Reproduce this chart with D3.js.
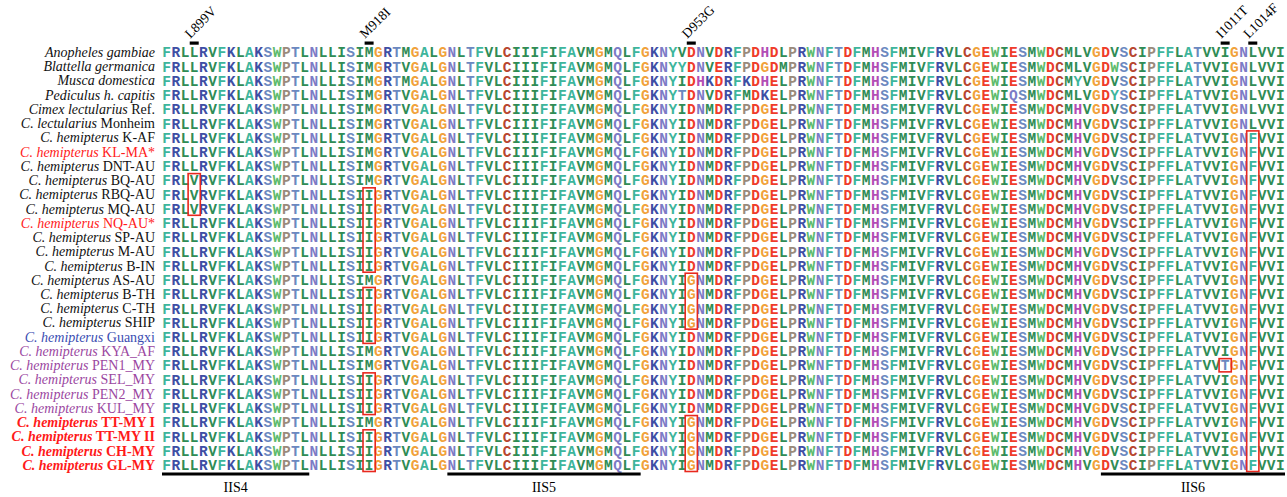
<!doctype html>
<meta charset="utf-8">
<body style="margin:0;background:#fff">

<div id="chart"></div>

<script src="https://d3js.org/d3.v7.min.js"></script>
<script>

// sample labels: italic part, plain part, label colour, bold
const species = [
  "Anopheles gambiae", "Blattella germanica", "Musca domestica", "Pediculus h. capitis",
  "Cimex lectularius", "C. lectularius",
  "C. hemipterus", "C. hemipterus", "C. hemipterus", "C. hemipterus", "C. hemipterus",
  "C. hemipterus", "C. hemipterus", "C. hemipterus", "C. hemipterus", "C. hemipterus",
  "C. hemipterus", "C. hemipterus", "C. hemipterus", "C. hemipterus", "C. hemipterus",
  "C. hemipterus", "C. hemipterus", "C. hemipterus", "C. hemipterus", "C. hemipterus",
  "C. hemipterus", "C. hemipterus", "C. hemipterus", "C. hemipterus"
]
const strains = [
  "", "", "", "", "Ref.", "Monheim",
  "K-AF", "KL-MA*", "DNT-AU", "BQ-AU", "RBQ-AU", "MQ-AU", "NQ-AU*", "SP-AU", "M-AU", "B-IN",
  "AS-AU", "B-TH", "C-TH", "SHIP", "Guangxi", "KYA_AF", "PEN1_MY", "SEL_MY", "PEN2_MY", "KUL_MY",
  "TT-MY I", "TT-MY II", "CH-MY", "GL-MY"
]
const labelGroup = [
  "k", "k", "k", "k", "k", "k",
  "k", "r", "k", "k", "k", "k", "r", "k", "k", "k",
  "k", "k", "k", "k", "b", "p", "p", "p", "p", "p",
  "rb", "rb", "rb", "rb"
]

// aligned sequences (residues 896-1017)
const sequences = [
  "FRLLRVFKLAKSWPTLNLLISIMGRTMGALGNLTFVLCIIIFIFAVMGMQLFGKNYVDNVDRFPDHDLPRWNFTDFMHSFMIVFRVLCGEWIESMWDCMLVGDVSCIPFFLATVVIGNLVVI",
  "FRLLRVFKLAKSWPTLNLLISIMGRTVGALGNLTFVLCIIIFIFAVMGMQLFGKNYYDNVERFPDGDMPRWNFTDFMHSFMIVFRVLCGEWIESMWDCMLVGDWSCIPFFLATVVIGNLVVI",
  "FRLLRVFKLAKSWPTLNLLISIMGRTMGALGNLTFVLCIIIFIFAVMGMQLFGKNYIDHKDRFKDHELPRWNFTDFMHSFMIVFRVLCGEWIESMWDCMYVGDVSCIPFFLATVVIGNLVVI",
  "FRLLRVFKLAKSWPTLNLLISIMGRTVGALGNLTFVLCIIIFIFAVMGMQLFGKNYTDNVDRFMDKELPRWNFTDFMHSFMIVFRVLCGEWIQSMWDCMLVGDYSCIPFFLATVVIGNLVVI",
  "FRLLRVFKLAKSWPTLNLLISIMGRTVGALGNLTFVLCIIIFIFAVMGMQLFGKNYIDNMDRFPDGELPRWNFTDFMHSFMIVFRVLCGEWIESMWDCMHVGDVSCIPFFLATVVIGNLVVI",
  "FRLLRVFKLAKSWPTLNLLISIMGRTVGALGNLTFVLCIIIFIFAVMGMQLFGKNYIDNMDRFPDGELPRWNFTDFMHSFMIVFRVLCGEWIESMWDCMHVGDVSCIPFFLATVVIGNLVVI",
  "FRLLRVFKLAKSWPTLNLLISIMGRTVGALGNLTFVLCIIIFIFAVMGMQLFGKNYIDNMDRFPDGELPRWNFTDFMHSFMIVFRVLCGEWIESMWDCMHVGDVSCIPFFLATVVIGNFVVI",
  "FRLLRVFKLAKSWPTLNLLISIMGRTVGALGNLTFVLCIIIFIFAVMGMQLFGKNYIDNMDRFPDGELPRWNFTDFMHSFMIVFRVLCGEWIESMWDCMHVGDVSCIPFFLATVVIGNFVVI",
  "FRLLRVFKLAKSWPTLNLLISIMGRTVGALGNLTFVLCIIIFIFAVMGMQLFGKNYIDNMDRFPDGELPRWNFTDFMHSFMIVFRVLCGEWIESMWDCMHVGDVSCIPFFLATVVIGNFVVI",
  "FRLVRVFKLAKSWPTLNLLISIMGRTVGALGNLTFVLCIIIFIFAVMGMQLFGKNYIDNMDRFPDGELPRWNFTDFMHSFMIVFRVLCGEWIESMWDCMHVGDVSCIPFFLATVVIGNFVVI",
  "FRLVRVFKLAKSWPTLNLLISIIGRTVGALGNLTFVLCIIIFIFAVMGMQLFGKNYIDNMDRFPDGELPRWNFTDFMHSFMIVFRVLCGEWIESMWDCMHVGDVSCIPFFLATVVIGNFVVI",
  "FRLVRVFKLAKSWPTLNLLISIIGRTVGALGNLTFVLCIIIFIFAVMGMQLFGKNYIDNMDRFPDGELPRWNFTDFMHSFMIVFRVLCGEWIESMWDCMHVGDVSCIPFFLATVVIGNFVVI",
  "FRLLRVFKLAKSWPTLNLLISIIGRTVGALGNLTFVLCIIIFIFAVMGMQLFGKNYIDNMDRFPDGELPRWNFTDFMHSFMIVFRVLCGEWIESMWDCMHVGDVSCIPFFLATVVIGNFVVI",
  "FRLLRVFKLAKSWPTLNLLISIIGRTVGALGNLTFVLCIIIFIFAVMGMQLFGKNYIDNMDRFPDGELPRWNFTDFMHSFMIVFRVLCGEWIESMWDCMHVGDVSCIPFFLATVVIGNFVVI",
  "FRLLRVFKLAKSWPTLNLLISIIGRTVGALGNLTFVLCIIIFIFAVMGMQLFGKNYIDNMDRFPDGELPRWNFTDFMHSFMIVFRVLCGEWIESMWDCMHVGDVSCIPFFLATVVIGNFVVI",
  "FRLLRVFKLAKSWPTLNLLISIIGRTVGALGNLTFVLCIIIFIFAVMGMQLFGKNYIDNMDRFPDGELPRWNFTDFMHSFMIVFRVLCGEWIESMWDCMHVGDVSCIPFFLATVVIGNFVVI",
  "FRLLRVFKLAKSWPTLNLLISIMGRTVGALGNLTFVLCIIIFIFAVMGMQLFGKNYIGNMDRFPDGELPRWNFTDFMHSFMIVFRVLCGEWIESMWDCMHVGDVSCIPFFLATVVIGNFVVI",
  "FRLLRVFKLAKSWPTLNLLISIIGRTVGALGNLTFVLCIIIFIFAVMGMQLFGKNYIGNMDRFPDGELPRWNFTDFMHSFMIVFRVLCGEWIESMWDCMHVGDVSCIPFFLATVVIGNFVVI",
  "FRLLRVFKLAKSWPTLNLLISIIGRTVGALGNLTFVLCIIIFIFAVMGMQLFGKNYIGNMDRFPDGELPRWNFTDFMHSFMIVFRVLCGEWIESMWDCMHVGDVSCIPFFLATVVIGNFVVI",
  "FRLLRVFKLAKSWPTLNLLISIIGRTVGALGNLTFVLCIIIFIFAVMGMQLFGKNYIGNMDRFPDGELPRWNFTDFMHSFMIVFRVLCGEWIESMWDCMHVGDVSCIPFFLATVVIGNFVVI",
  "FRLLRVFKLAKSWPTLNLLISIIGRTVGALGNLTFVLCIIIFIFAVMGMQLFGKNYIDNMDRFPDGELPRWNFTDFMHSFMIVFRVLCGEWIESMWDCMHVGDVSCIPFFLATVVIGNFVVI",
  "FRLLRVFKLAKSWPTLNLLISIMGRTVGALGNLTFVLCIIIFIFAVMGMQLFGKNYIDNMDRFPDGELPRWNFTDFMHSFMIVFRVLCGEWIESMWDCMHVGDVSCIPFFLATVVIGNFVVI",
  "FRLLRVFKLAKSWPTLNLLISIMGRTVGALGNLTFVLCIIIFIFAVMGMQLFGKNYIDNMDRFPDGELPRWNFTDFMHSFMIVFRVLCGEWIESMWDCMHVGDVSCIPFFLATVVTGNFVVI",
  "FRLLRVFKLAKSWPTLNLLISIIGRTVGALGNLTFVLCIIIFIFAVMGMQLFGKNYIDNMDRFPDGELPRWNFTDFMHSFMIVFRVLCGEWIESMWDCMHVGDVSCIPFFLATVVIGNFVVI",
  "FRLLRVFKLAKSWPTLNLLISIIGRTVGALGNLTFVLCIIIFIFAVMGMQLFGKNYIDNMDRFPDGELPRWNFTDFMHSFMIVFRVLCGEWIESMWDCMHVGDVSCIPFFLATVVIGNFVVI",
  "FRLLRVFKLAKSWPTLNLLISIIGRTVGALGNLTFVLCIIIFIFAVMGMQLFGKNYIDNMDRFPDGELPRWNFTDFMHSFMIVFRVLCGEWIESMWDCMHVGDVSCIPFFLATVVIGNFVVI",
  "FRLLRVFKLAKSWPTLNLLISIMGRTVGALGNLTFVLCIIIFIFAVMGMQLFGKNYIGNMDRFPDGELPRWNFTDFMHSFMIVFRVLCGEWIESMWDCMHVGDVSCIPFFLATVVIGNFVVI",
  "FRLLRVFKLAKSWPTLNLLISIIGRTVGALGNLTFVLCIIIFIFAVMGMQLFGKNYIGNMDRFPDGELPRWNFTDFMHSFMIVFRVLCGEWIESMWDCMHVGDVSCIPFFLATVVIGNFVVI",
  "FRLLRVFKLAKSWPTLNLLISIIGRTVGALGNLTFVLCIIIFIFAVMGMQLFGKNYIGNMDRFPDGELPRWNFTDFMHSFMIVFRVLCGEWIESMWDCMHVGDVSCIPFFLATVVIGNFVVI",
  "FRLLRVFKLAKSWPTLNLLISIIGRTVGALGNLTFVLCIIIFIFAVMGMQLFGKNYIGNMDRFPDGELPRWNFTDFMHSFMIVFRVLCGEWIESMWDCMHVGDVSCIPFFLATVVIGNFVVI"
]

const refRow = 4          // Cimex lectularius Ref.
const firstResidue = 896
const mutations = ["L899V", "M918I", "D953G", "I1011T", "L1014F"]

const domainNames = ["IIS4", "IIS5", "IIS6"]
const domainStart = [896, 927, 998]
const domainEnd = [911, 947, 1017]

const residueColor = {
  F: "#3db59c", Y: "#3db59c", A: "#3db59c",
  R: "#3e4ea4", K: "#3e4ea4",
  L: "#2f8c55", I: "#2f8c55", M: "#2f8c55", V: "#2f8c55",
  W: "#5dbb6c",
  S: "#6b88c0", T: "#6b88c0",
  N: "#7c7bc6", Q: "#7c7bc6",
  P: "#9a8a7b",
  G: "#f1a23a",
  C: "#b7452f",
  D: "#ef3b2a", E: "#ef3b2a",
  H: "#b24db5"
}
const labelColor = { k: "#111", r: "#ff1a1a", rb: "#ff1a1a", b: "#3a4db2", p: "#9b479f" }

const width = 1287
const height = 497

const svg = d3.select("#chart").append("svg")
  .attr("width", width)
  .attr("height", height)

const nCols = sequences[0].length
const x = d3.scaleBand()
  .domain(d3.range(nCols))
  .range([162, 1285])
const y = d3.scaleBand()
  .domain(d3.range(sequences.length))
  .range([45, 472])

// row labels
const labels = svg.append("g")
  .selectAll("text")
  .data(species)
  .join("text")
  .attr("x", 155)
  .attr("y", (d, i) => y(i) + y.bandwidth() / 2)
  .attr("dy", "0.35em")
  .attr("text-anchor", "end")
  .attr("font-family", "Liberation Serif, Times New Roman, serif")
  .attr("font-size", 14)
  .attr("font-weight", (d, i) => labelGroup[i] == "rb" ? "bold" : "normal")
  .attr("fill", (d, i) => labelColor[labelGroup[i]])

labels.append("tspan")
  .attr("font-style", "italic")
  .text(d => d)
labels.append("tspan")
  .text((d, i) => strains[i] ? " " + strains[i] : "")

// residues
const cells = []
sequences.forEach((s, r) => {
  s.split("").forEach((c, j) => cells.push({ r, j, c }))
})

svg.append("g")
  .selectAll("text")
  .data(cells)
  .join("text")
  .attr("x", d => x(d.j) + x.bandwidth() / 2)
  .attr("y", d => y(d.r) + y.bandwidth() / 2)
  .attr("dy", "0.36em")
  .attr("text-anchor", "middle")
  .attr("font-family", "Liberation Mono, DejaVu Sans Mono, monospace")
  .attr("font-size", 14.5)
  .attr("font-weight", "bold")
  .attr("fill", d => residueColor[d.c] || "#333")
  .text(d => d.c)

// red boxes around runs of C. hemipterus rows differing from the reference
const boxes = []
for (let j = 0; j < nCols; j++) {
  let start = null
  for (let r = 6; r <= sequences.length; r++) {
    const diff = r < sequences.length && sequences[r][j] != sequences[refRow][j]
    if (diff && start === null) start = r
    if (!diff && start !== null) {
      boxes.push({ j, r0: start, r1: r - 1 })
      start = null
    }
  }
}

svg.append("g")
  .selectAll("rect")
  .data(boxes)
  .join("rect")
  .attr("x", d => x(d.j) - 1.5)
  .attr("y", d => y(d.r0) + 0.5)
  .attr("width", x.bandwidth() + 3)
  .attr("height", d => y(d.r1) - y(d.r0) + y.bandwidth() - 1)
  .attr("fill", "none")
  .attr("stroke", "#e8281e")
  .attr("stroke-width", 1.6)

// mutation markers
const marks = svg.append("g")
  .selectAll("g")
  .data(mutations)
  .join("g")
  .attr("transform", d => "translate(" + (x(+d.slice(1, -1) - firstResidue) + x.bandwidth() / 2) + ",43)")

marks.append("rect")
  .attr("x", -4.5)
  .attr("y", -1.5)
  .attr("width", 9)
  .attr("height", 3.2)
  .attr("fill", "#000")

const k = Math.SQRT1_2
marks.append("text")
  .attr("transform", "matrix(" + [k, -k, k, k, -4, -4].join(",") + ")")
  .attr("font-family", "Liberation Serif, Times New Roman, serif")
  .attr("font-size", 13.5)
  .attr("fill", "#000")
  .text(d => d)

// domain bars
const dom = svg.append("g")
  .selectAll("g")
  .data(domainNames)
  .join("g")

dom.append("rect")
  .attr("x", (d, i) => x(domainStart[i] - firstResidue))
  .attr("y", 472.5)
  .attr("width", (d, i) => x(domainEnd[i] - firstResidue) + x.bandwidth() - x(domainStart[i] - firstResidue))
  .attr("height", 3)
  .attr("fill", "#000")

dom.append("text")
  .attr("x", (d, i) => (x(domainStart[i] - firstResidue) + x(domainEnd[i] - firstResidue) + x.bandwidth()) / 2)
  .attr("y", 492)
  .attr("text-anchor", "middle")
  .attr("font-family", "Liberation Serif, Times New Roman, serif")
  .attr("font-size", 14)
  .attr("fill", "#000")
  .text(d => d)

</script>
</body>
